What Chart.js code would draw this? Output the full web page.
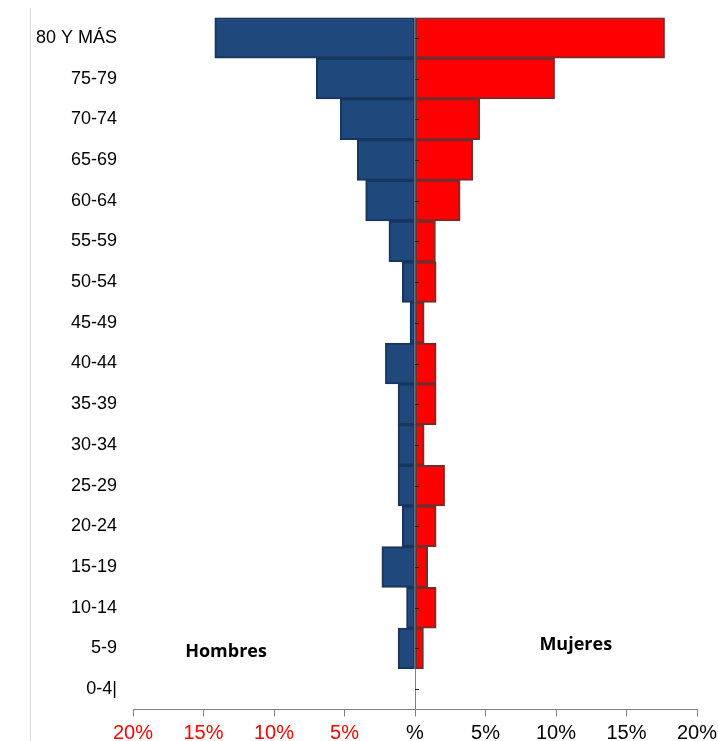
<!DOCTYPE html>
<html lang="es">
<head>
<meta charset="utf-8">
<title>Pirámide de población</title>
<script src="https://cdn.jsdelivr.net/npm/chart.js@4.4.1/dist/chart.umd.min.js"></script>
<style>
  html, body { margin: 0; padding: 0; background: #fff; }
  #caja { width: 718px; height: 741px; position: relative; }
</style>
</head>
<body>
<div id="caja"><canvas id="piramide"></canvas></div>
<script>
// Grupos de edad (de arriba a abajo)
const categorias = ['80 Y MÁS', '75-79', '70-74', '65-69', '60-64', '55-59', '50-54', '45-49',
  '40-44', '35-39', '30-34', '25-29', '20-24', '15-19', '10-14', '5-9', '0-4|'];

// Porcentajes
const hombres = [14.2, 7.0, 5.3, 4.1, 3.5, 1.85, 0.9, 0.35, 2.1, 1.2, 1.2, 1.2, 0.9, 2.35, 0.6, 1.2, 0];
const mujeres = [17.7, 9.9, 4.6, 4.1, 3.2, 1.45, 1.5, 0.65, 1.5, 1.5, 0.65, 2.1, 1.5, 0.9, 1.5, 0.6, 0];

// Marcas del eje horizontal
const ticksX = [-20, -15, -10, -5, 0, 5, 10, 15, 20];

// Eje central, linea gris a la izquierda y rotulos Hombres / Mujeres
const decoracion = {
  id: 'decoracion',
  beforeDraw(chart) {
    const ctx = chart.ctx;
    ctx.save();
    ctx.strokeStyle = '#d9d9d9';
    ctx.lineWidth = 1;
    ctx.beginPath();
    ctx.moveTo(30.5, 8);
    ctx.lineTo(30.5, chart.height);
    ctx.stroke();
    ctx.restore();
  },
  beforeDatasetsDraw(chart) {
    const { ctx, chartArea, scales } = chart;
    const x0 = Math.round(scales.x.getPixelForValue(0)) + 0.5;
    ctx.save();
    ctx.strokeStyle = '#808080';
    ctx.lineWidth = 1;
    ctx.beginPath();
    ctx.moveTo(x0, chartArea.top);
    ctx.lineTo(x0, chartArea.bottom);
    ctx.stroke();
    ctx.restore();
  },
  afterDatasetsDraw(chart) {
    const { ctx, scales } = chart;
    const x0 = scales.x.getPixelForValue(0);
    ctx.save();
    ctx.strokeStyle = '#1a1a1a';
    ctx.lineWidth = 1;
    ctx.beginPath();
    categorias.forEach(function(c, i) {
      const py = Math.round(scales.y.getPixelForValue(i)) + 0.5;
      ctx.moveTo(x0, py);
      ctx.lineTo(x0 + 4, py);
    });
    ctx.stroke();

    ctx.fillStyle = '#000';
    ctx.font = 'bold 18px "Open Sans", sans-serif';
    ctx.textAlign = 'center';
    ctx.textBaseline = 'middle';
    ctx.fillText('Hombres', scales.x.getPixelForValue(-13.4), scales.y.getPixelForValue(15) + 3);
    ctx.fillText('Mujeres', scales.x.getPixelForValue(11.4), scales.y.getPixelForValue(15) - 4);
    ctx.restore();
  }
};

new Chart(document.getElementById('piramide'), {
  type: 'bar',
  data: {
    labels: categorias,
    datasets: [
      {
        label: 'Hombres',
        data: hombres.map(v => -v),
        backgroundColor: '#1f497d',
        borderColor: '#17365d',
        borderWidth: 2,
        borderSkipped: false
      },
      {
        label: 'Mujeres',
        data: mujeres,
        backgroundColor: '#ff0000',
        borderColor: '#772b2b',
        borderWidth: 2,
        borderSkipped: false
      }
    ]
  },
  options: {
    indexAxis: 'y',
    responsive: true,
    maintainAspectRatio: false,
    animation: false,
    barPercentage: 1,
    categoryPercentage: 1,
    layout: { padding: { left: 0, right: 21, top: 17.5, bottom: 0 } },
    plugins: {
      legend: { display: false },
      tooltip: { enabled: false }
    },
    scales: {
      x: {
        stacked: true,
        min: -20,
        max: 20,
        afterBuildTicks: function(scale) {
          scale.ticks = ticksX.map(v => ({ value: v }));
        },
        afterFit: function(scale) {
          scale.height = 31.5;
          scale.paddingLeft = 0;
          scale.paddingRight = 0;
        },
        border: { display: true, color: '#808080', width: 1 },
        grid: { drawOnChartArea: false, drawTicks: true, tickLength: 7, color: '#808080' },
        ticks: {
          maxRotation: 0,
          autoSkip: false,
          padding: 5,
          font: { family: '"Liberation Sans", Arial, sans-serif', size: 20 },
          color: function(ctx) {
            return ctx.tick && ctx.tick.value < 0 ? '#ff0000' : '#000000';
          },
          callback: function(value) {
            return value === 0 ? '%' : Math.abs(value) + '%';
          }
        }
      },
      y: {
        stacked: true,
        afterFit: function(scale) {
          scale.width = 133;
          scale.paddingTop = 0;
          scale.paddingBottom = 0;
        },
        border: { display: false },
        grid: { display: false, drawTicks: false },
        ticks: {
          padding: 16,
          autoSkip: false,
          color: '#000',
          font: { family: '"Liberation Sans", Arial, sans-serif', size: 18 }
        }
      }
    }
  },
  plugins: [decoracion]
});
</script>
</body>
</html>
